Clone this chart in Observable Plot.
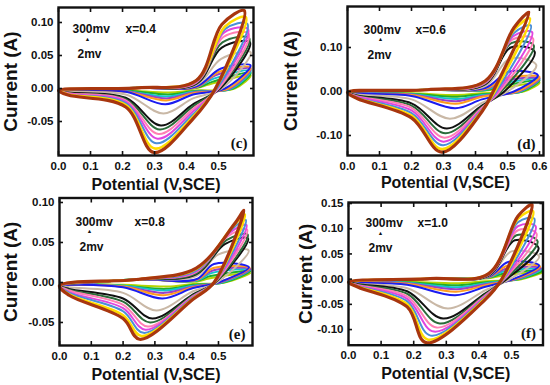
<!DOCTYPE html>
<html><head><meta charset="utf-8">
<script src="https://cdn.jsdelivr.net/npm/d3@7"></script>
<script src="https://cdn.jsdelivr.net/npm/@observablehq/plot@0.6"></script>
<style>
body{margin:0;background:#fff}
#fig{position:relative;width:550px;height:385px;overflow:hidden;background:#fff}
#fig svg{position:absolute}
</style>
</head><body><div id="fig"></div>
<script>
// ---------- shared data ----------
const scanRates = [2,5,10,20,30,40,50,60,80,100,150,200,250,300]; // mV/s, inner -> outer
const curveColors = ["#b5d400","#1fae2a","#12c4cf","#9b3fc9","#ff9b1f","#1c1cf0","#c9b8a6","#111111","#2b6b3a","#ff7fb4","#e045e0","#4a8fd6","#ffdc00","#a8360f"];
const compositions = ["x=0.4","x=0.6","x=0.8","x=1.0"];
const panelTags = ["(c)","(d)","(e)","(f)"];
const rateRangeLabels = ["300mv","2mv"];
const xTicksCEF = [0,0.1,0.2,0.3,0.4,0.5];
const xTicksD = [0,0.1,0.2,0.3,0.4,0.5,0.6];
const yTicksC = [-0.05,0,0.05,0.10];
const yTicksD = [-0.10,0,0.10];
const yTicksE = [-0.05,0,0.05,0.10];
const yTicksF = [-0.10,-0.05,0,0.05,0.10,0.15];
// potentials at which the baseline currents below were read: fwd, fwd knee base, rev mid, rev low, rev end
const gridC = [0.25,0.43,0.42,0.21,0.03];
const gridD = [0.25,0.43,0.42,0.20,0.03];
const gridE = [0.25,0.43,0.42,0.20,0.03];
const gridF = [0.25,0.43,0.42,0.18,0.03];
// forward start current at 0 V and forward current at the first grid potential
const startC = [-0.003,0.001];
const startD = [-0.002,0.004];
const startE = [-0.004,0.004];
const startF = [-0.006,0.001];

// ---------- panel (c) x=0.4 ----------
const cEk  = [0.470,0.480,0.485,0.490,0.500,0.506,0.508,0.510,0.512,0.515,0.518,0.520,0.520,0.510];
const cIk  = [0.006,0.010,0.015,0.020,0.025,0.030,0.045,0.062,0.070,0.078,0.085,0.090,0.094,0.097];
const cEv  = [0.600,0.600,0.600,0.600,0.600,0.600,0.600,0.598,0.596,0.594,0.592,0.590,0.585,0.580];
const cIv  = [0.020,0.024,0.027,0.030,0.032,0.035,0.055,0.070,0.076,0.083,0.090,0.098,0.108,0.118];
const cEx  = [0.550,0.545,0.540,0.535,0.530,0.520,0.510,0.505,0.500,0.500,0.495,0.495,0.490,0.490];
const cImid= [-0.003,-0.004,-0.005,-0.006,-0.007,-0.009,-0.015,-0.024,-0.027,-0.031,-0.035,-0.039,-0.043,-0.046];
const cEpc = [0.345,0.343,0.340,0.338,0.336,0.334,0.328,0.320,0.316,0.312,0.309,0.305,0.301,0.298];
const cIpc = [-0.006,-0.009,-0.012,-0.015,-0.018,-0.024,-0.038,-0.056,-0.062,-0.069,-0.076,-0.083,-0.091,-0.097];
const cIr1 = [-0.003,-0.003,-0.004,-0.004,-0.005,-0.005,-0.009,-0.014,-0.016,-0.018,-0.020,-0.022,-0.025,-0.028];
const cIlo = [-0.003,-0.003,-0.003,-0.004,-0.004,-0.004,-0.005,-0.006,-0.007,-0.007,-0.008,-0.009,-0.009,-0.010];
const cIfw = [0.001,0.001,0.002,0.002,0.002,0.003,0.005,0.007,0.008,0.009,0.010,0.011,0.012,0.012];

// ---------- panel (d) x=0.6 ----------
const dEk  = [0.470,0.480,0.485,0.490,0.495,0.504,0.508,0.510,0.512,0.515,0.518,0.520,0.520,0.520];
const dIk  = [0.006,0.012,0.018,0.024,0.030,0.045,0.075,0.100,0.110,0.118,0.126,0.133,0.140,0.145];
const dEv  = [0.600,0.600,0.600,0.600,0.600,0.595,0.590,0.585,0.582,0.580,0.577,0.573,0.570,0.567];
const dIv  = [0.020,0.025,0.028,0.030,0.033,0.037,0.060,0.090,0.105,0.120,0.135,0.150,0.166,0.180];
const dEx  = [0.550,0.545,0.540,0.535,0.530,0.520,0.500,0.490,0.480,0.475,0.470,0.465,0.460,0.455];
const dImid= [-0.004,-0.006,-0.008,-0.010,-0.012,-0.018,-0.026,-0.032,-0.035,-0.037,-0.040,-0.042,-0.044,-0.046];
const dEpc = [0.345,0.343,0.342,0.340,0.338,0.337,0.320,0.310,0.306,0.303,0.300,0.298,0.296,0.295];
const dIpc = [-0.008,-0.012,-0.017,-0.022,-0.028,-0.038,-0.062,-0.084,-0.095,-0.105,-0.114,-0.122,-0.131,-0.138];
const dIr1 = [-0.004,-0.005,-0.006,-0.007,-0.008,-0.010,-0.018,-0.027,-0.032,-0.037,-0.043,-0.049,-0.055,-0.060];
const dIlo = [-0.003,-0.003,-0.004,-0.004,-0.005,-0.005,-0.007,-0.009,-0.010,-0.011,-0.012,-0.014,-0.015,-0.016];
const dIfw = [0.002,0.003,0.004,0.005,0.006,0.008,0.012,0.016,0.018,0.019,0.020,0.022,0.023,0.024];

// ---------- panel (e) x=0.8 ----------
const eEk  = [0.470,0.475,0.480,0.482,0.484,0.486,0.500,0.520,0.525,0.530,0.535,0.540,0.545,0.550];
const eIk  = [0.005,0.008,0.012,0.015,0.018,0.023,0.035,0.048,0.053,0.058,0.062,0.066,0.070,0.073];
const eEv  = [0.600,0.600,0.600,0.600,0.598,0.596,0.595,0.593,0.592,0.590,0.588,0.586,0.583,0.580];
const eIv  = [0.012,0.014,0.016,0.017,0.018,0.019,0.040,0.055,0.060,0.066,0.072,0.078,0.085,0.090];
const eEx  = [0.520,0.515,0.510,0.505,0.500,0.500,0.495,0.490,0.490,0.488,0.487,0.486,0.486,0.486];
const eImid= [-0.002,-0.003,-0.004,-0.005,-0.006,-0.007,-0.011,-0.015,-0.016,-0.017,-0.018,-0.019,-0.020,-0.021];
const eEpc = [0.340,0.335,0.332,0.330,0.327,0.324,0.305,0.292,0.285,0.278,0.270,0.264,0.258,0.252];
const eIpc = [-0.005,-0.008,-0.010,-0.013,-0.016,-0.020,-0.035,-0.045,-0.050,-0.055,-0.059,-0.063,-0.067,-0.071];
const eIr1 = [-0.003,-0.004,-0.004,-0.005,-0.005,-0.006,-0.013,-0.020,-0.024,-0.028,-0.032,-0.036,-0.041,-0.045];
const eIlo = [-0.002,-0.002,-0.003,-0.003,-0.003,-0.003,-0.006,-0.008,-0.009,-0.010,-0.012,-0.013,-0.015,-0.016];
const eIfw = [0.001,0.002,0.002,0.003,0.003,0.004,0.008,0.010,0.011,0.013,0.014,0.015,0.017,0.018];

// ---------- panel (f) x=1.0 ----------
const fEk  = [0.465,0.470,0.475,0.480,0.485,0.490,0.500,0.510,0.515,0.520,0.520,0.520,0.520,0.520];
const fIk  = [0.006,0.010,0.015,0.020,0.026,0.034,0.055,0.077,0.087,0.097,0.105,0.113,0.120,0.125];
const fEv  = [0.595,0.595,0.592,0.590,0.588,0.585,0.585,0.583,0.580,0.577,0.574,0.570,0.566,0.563];
const fIv  = [0.014,0.017,0.020,0.022,0.025,0.027,0.045,0.062,0.075,0.090,0.105,0.120,0.135,0.148];
const fEx  = [0.530,0.525,0.520,0.515,0.510,0.505,0.495,0.485,0.480,0.478,0.476,0.474,0.472,0.470];
const fImid= [-0.004,-0.006,-0.008,-0.010,-0.012,-0.015,-0.022,-0.028,-0.030,-0.032,-0.034,-0.036,-0.038,-0.040];
const fEpc = [0.340,0.337,0.335,0.332,0.330,0.327,0.305,0.290,0.280,0.270,0.262,0.252,0.244,0.238];
const fIpc = [-0.008,-0.012,-0.016,-0.020,-0.025,-0.032,-0.058,-0.078,-0.088,-0.096,-0.104,-0.112,-0.120,-0.126];
const fIr1 = [-0.005,-0.006,-0.007,-0.008,-0.009,-0.011,-0.018,-0.024,-0.029,-0.034,-0.039,-0.044,-0.050,-0.055];
const fIlo = [-0.004,-0.005,-0.005,-0.006,-0.006,-0.007,-0.009,-0.010,-0.011,-0.012,-0.013,-0.014,-0.015,-0.016];
const fIfw = [0.002,0.003,0.003,0.004,0.004,0.005,0.006,0.007,0.008,0.009,0.009,0.010,0.011,0.011];

// ---------- build loop tables ----------
function loops(grid, start, ek, ik, ev, iv, ex, imid, epc, ipc, ir1, ilo, ifw) {
  return scanRates.map((rate, k) => ({
    rate, k,
    pts: [
      [0, start[0]], [grid[0], start[1]], [grid[1], ifw[k]], [ek[k], ik[k]], [ev[k], iv[k]],
      [ex[k], 0], [grid[2], imid[k]], [epc[k], ipc[k]], [grid[3], ir1[k]], [grid[4], ilo[k]]
    ].map(([E, I]) => ({E, I, rate}))
  }));
}
const panelsData = [
  loops(gridC, startC, cEk, cIk, cEv, cIv, cEx, cImid, cEpc, cIpc, cIr1, cIlo, cIfw),
  loops(gridD, startD, dEk, dIk, dEv, dIv, dEx, dImid, dEpc, dIpc, dIr1, dIlo, dIfw),
  loops(gridE, startE, eEk, eIk, eEv, eIv, eEx, eImid, eEpc, eIpc, eIr1, eIlo, eIfw),
  loops(gridF, startF, fEk, fIk, fEv, fIv, fEx, fImid, fEpc, fIpc, fIr1, fIlo, fIfw)
];
const yTicksAll = [yTicksC, yTicksD, yTicksE, yTicksF];
const xTicksAll = [xTicksCEF, xTicksD, xTicksCEF, xTicksCEF];

// ---------- layout (positions / sizes only) ----------
const layout = [
  {left:0,   top:0,   w:275, h:192, ml:58, mr:22,  mt:7,   mb:37,   xd:[0,0.609],  yd:[-0.1015,0.1227], ylo:55, xlo:34, n:{a:[14,17], x:[67,17], ar:[29,29.5], b:[19,42]}, tag:[-6,-8]},
  {left:275, top:0,   w:275, h:192, ml:72, mr:7,   mt:6,   mb:37,   xd:[0,0.6125], yd:[-0.1455,0.1932], ylo:64, xlo:32, n:{a:[16,19], x:[68,19], ar:[33,31], b:[20,44]}, tag:[-8,-7]},
  {left:0,   top:192, w:275, h:193, ml:59, mr:23,  mt:5.5, mb:40,   xd:[0,0.607],  yd:[-0.0788,0.1056], ylo:56, xlo:34, n:{a:[16,19.5], x:[75,19.5], ar:[30,31.5], b:[20,44.5]}, tag:[-7,-7]},
  {left:275, top:192, w:275, h:193, ml:73, mr:7.5, mt:10,  mb:40.3, xd:[0,0.5966], yd:[-0.131,0.152],   ylo:50, xlo:34, n:{a:[17,16], x:[69,16], ar:[32,28.5], b:[20,41]}, tag:[-7,-7]}
];

const fig = document.getElementById("fig");
const bold = {fontWeight: "bold"};
layout.forEach((L, p) => {
  const data = panelsData[p];
  const xT = xTicksAll[p], yT = yTicksAll[p];
  const lineMarks = data.map(c => Plot.line(c.pts, {
    x: "E", y: "I", curve: "catmull-rom-closed",
    stroke: curveColors[c.k],
    strokeWidth: c.k === scanRates.length - 1 ? 3.2 : (c.k === scanRates.length - 2 ? 2.6 : 2.0),
    strokeLinejoin: "round"
  }));
  const note = (txt, off, size, extra = {}) => Plot.text([txt], {
    frameAnchor: "top-left", dx: off[0], dy: off[1], textAnchor: "start",
    fontSize: size, fontWeight: "bold", fill: "#111", ...extra
  });
  const svg = Plot.plot({
    width: L.w, height: L.h,
    marginLeft: L.ml, marginRight: L.mr, marginTop: L.mt, marginBottom: L.mb,
    x: {domain: L.xd}, y: {domain: L.yd},
    style: {fontFamily: "'Liberation Sans', Arial, sans-serif", background: "transparent", color: "#111", overflow: "visible"},
    marks: [
      ...lineMarks,
      Plot.frame({stroke: "#111", strokeWidth: 2.4}),
      Plot.axisX({ticks: xT, tickSize: 0, tickPadding: 6, tickFormat: d => d.toFixed(1), fontSize: 11.5, ...bold, label: null}),
      Plot.axisX({ticks: xT, tickSize: 4, dy: -4, tickFormat: () => "", label: null, strokeWidth: 1.6}),
      Plot.axisX({anchor: "top", ticks: xT, tickSize: 4, dy: 4, tickFormat: () => "", label: null, strokeWidth: 1.6}),
      Plot.axisY({ticks: yT, tickSize: 0, tickPadding: 5, tickFormat: d => d.toFixed(2), fontSize: 11.5, ...bold, label: null}),
      Plot.axisY({ticks: yT, tickSize: 4, dx: 4, tickFormat: () => "", label: null, strokeWidth: 1.6}),
      Plot.axisY({anchor: "right", ticks: yT, tickSize: 4, dx: -4, tickFormat: () => "", label: null, strokeWidth: 1.6}),
      Plot.axisX({ticks: [], tickSize: 0, label: "Potential (V,SCE)", labelAnchor: "center", labelOffset: L.xlo, labelArrow: "none", fontSize: 16, ...bold}),
      Plot.axisY({ticks: [], tickSize: 0, label: "Current (A)", labelAnchor: "center", labelOffset: L.ylo, labelArrow: "none", fontSize: 19, ...bold}),
      note(rateRangeLabels[0], L.n.a, 12),
      note(compositions[p], L.n.x, 12),
      note("▲", L.n.ar, 5.5, {textAnchor: "middle"}),
      note(rateRangeLabels[1], L.n.b, 12),
      Plot.text([panelTags[p]], {frameAnchor: "bottom-right", dx: L.tag[0], dy: L.tag[1], textAnchor: "end",
        fontFamily: "'Liberation Serif', 'Times New Roman', serif", fontWeight: "bold", fontSize: 15, fill: "#111"})
    ]
  });
  svg.style.left = L.left + "px";
  svg.style.top = L.top + "px";
  fig.appendChild(svg);
});
</script>
</body></html>
